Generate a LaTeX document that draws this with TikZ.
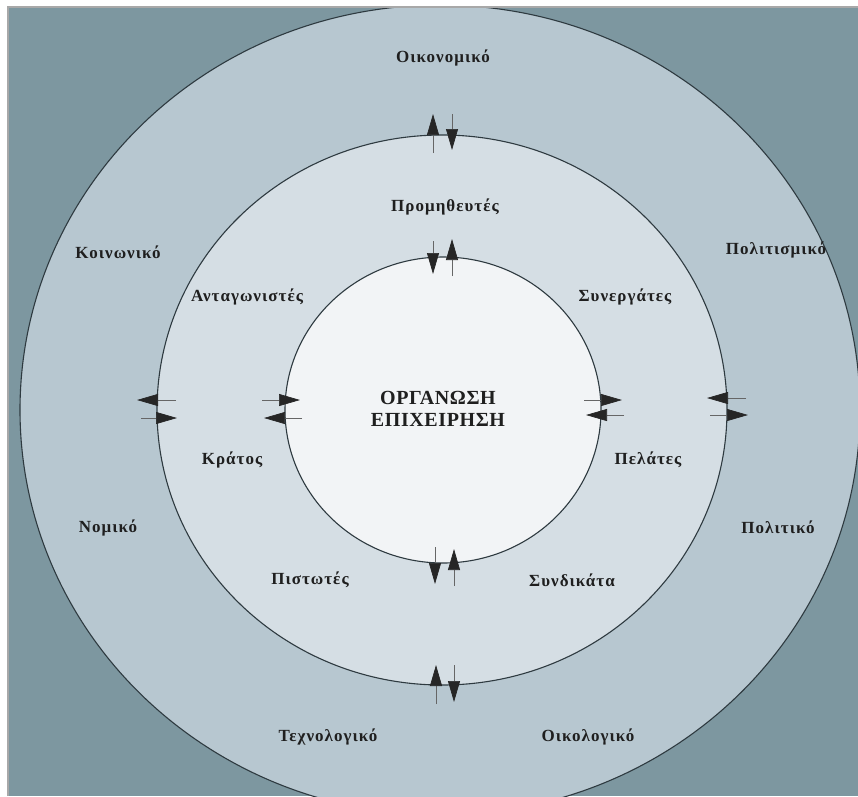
\documentclass[tikz,border=0pt]{standalone}
\usepackage{fontspec}
\setmainfont{Liberation Serif}
\newfontfamily\labelserif[LetterSpace=6,BoldFont={Liberation Serif Bold}]{Liberation Serif}
\newfontfamily\titleserif[LetterSpace=3,BoldFont={Liberation Serif Bold}]{Liberation Serif}
\usetikzlibrary{arrows.meta}

\definecolor{cornerfill}{HTML}{7D97A0}
\definecolor{outerring}{HTML}{B7C7D0}
\definecolor{middlering}{HTML}{D5DEE4}
\definecolor{innerdisc}{HTML}{F2F4F6}
\definecolor{edgeline}{HTML}{2E3A40}
\definecolor{framegray}{HTML}{A8A8A8}

\tikzset{
  ring/.style={draw=edgeline, line width=1.1pt},
  lbl/.style={font=\labelserif\bfseries\fontsize{17}{20}\selectfont, text=black!88, inner sep=0pt},
  title/.style={font=\titleserif\bfseries\fontsize{20}{24}\selectfont, text=black!88, align=center, inner sep=0pt},
  flow/.style={draw=black!60, line width=0.7pt,
    -{Triangle[length=21pt,width=12pt,fill=black!85,color=black!85]}},
}

\begin{document}
\begin{tikzpicture}[x=1pt,y=-1pt]
\useasboundingbox (0,0) rectangle (858,796);
\fill[white] (0,0) rectangle (858,796);

% environment rings, clipped to the panel
\begin{scope}
  \clip (8,7) rectangle (858,796);
  \fill[cornerfill] (8,7) rectangle (858,796);
  \filldraw[ring, fill=outerring]  (440,410) ellipse [x radius=420pt, y radius=405pt];
  \filldraw[ring, fill=middlering] (442,410) ellipse [x radius=285pt, y radius=275pt];
  \filldraw[ring, fill=innerdisc]  (443,410) ellipse [x radius=158pt, y radius=153pt];
\end{scope}
\draw[framegray, line width=1.5pt] (8,796) -- (8,7) -- (858,7);

% centre
\node[title] (org) at (438,409) {ΟΡΓΑΝΩΣΗ\\[-2pt]ΕΠΙΧΕΙΡΗΣΗ};

% outer ring: general environment
\node[lbl] (oik)  at (443,58)  {Οικονομικό};
\node[lbl] (koin) at (118,252) {Κοινωνικό};
\node[lbl] (polm) at (776,250) {Πολιτισμικό};
\node[lbl] (nom)  at (108,528) {Νομικό};
\node[lbl] (polt) at (778,527) {Πολιτικό};
\node[lbl] (tex)  at (328,737) {Τεχνολογικό};
\node[lbl] (oikl) at (588,737) {Οικολογικό};

% middle ring: task environment
\node[lbl] (prom) at (445,207) {Προμηθευτές};
\node[lbl] (ant)  at (247,297) {Ανταγωνιστές};
\node[lbl] (syn)  at (625,297) {Συνεργάτες};
\node[lbl] (kra)  at (232,460) {Κράτος};
\node[lbl] (pel)  at (648,460) {Πελάτες};
\node[lbl] (pis)  at (310,580) {Πιστωτές};
\node[lbl] (snd)  at (572,580) {Συνδικάτα};

% arrow end points on the middle ring
\coordinate (mt1a) at (433,153); \coordinate (mt1b) at (433,114);
\coordinate (mt2a) at (452,114); \coordinate (mt2b) at (452,150);
\coordinate (mb1a) at (436,704); \coordinate (mb1b) at (436,665);
\coordinate (mb2a) at (454,665); \coordinate (mb2b) at (454,702);
\coordinate (ml1a) at (176,400); \coordinate (ml1b) at (137,400);
\coordinate (ml2a) at (141,418); \coordinate (ml2b) at (177,418);
\coordinate (mr1a) at (746,398); \coordinate (mr1b) at (707,398);
\coordinate (mr2a) at (710,415); \coordinate (mr2b) at (748,415);

% arrow end points on the inner disc
\coordinate (it1a) at (433,241); \coordinate (it1b) at (433,274);
\coordinate (it2a) at (452,276); \coordinate (it2b) at (452,239);
\coordinate (ib1a) at (435,547); \coordinate (ib1b) at (435,584);
\coordinate (ib2a) at (454,586); \coordinate (ib2b) at (454,549);
\coordinate (il1a) at (262,400); \coordinate (il1b) at (300,400);
\coordinate (il2a) at (302,418); \coordinate (il2b) at (264,418);
\coordinate (ir1a) at (584,400); \coordinate (ir1b) at (622,400);
\coordinate (ir2a) at (624,415); \coordinate (ir2b) at (586,415);

\foreach \p in {mt1,mt2,mb1,mb2,ml1,ml2,mr1,mr2,it1,it2,ib1,ib2,il1,il2,ir1,ir2}
  \draw[flow] (\p a) -- (\p b);
\end{tikzpicture}
\end{document}
